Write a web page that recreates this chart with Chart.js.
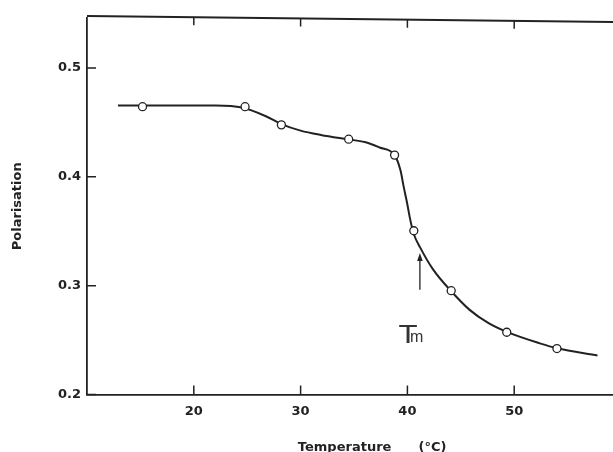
<!DOCTYPE html>
<html><head><meta charset="utf-8">
<script src="https://cdn.jsdelivr.net/npm/chart.js@4.4.0/dist/chart.umd.min.js"></script>
<style>html,body{margin:0;padding:0;background:#fff;}canvas{display:block;}</style>
</head><body>
<canvas id="c" width="613" height="452"></canvas>
<script>
// ---- data ----
const measuredTemps = [15.2, 24.8, 28.2, 34.5, 38.8, 40.6, 44.1, 49.3, 54.0];
const measuredPolarisation = [0.4645, 0.4645, 0.4478, 0.4346, 0.4200, 0.3505, 0.2954, 0.2572, 0.2422];
const curveTemps = [12.9, 15.2, 18.0, 22.0, 24.5, 26.8, 28.2, 30.0, 31.9, 34.4, 36.0, 37.4, 38.8, 39.35, 39.65, 39.97, 40.28, 40.58, 41.2, 42.4, 44.0, 45.8, 47.6, 49.3, 52.4, 54.0, 57.8];
const curvePolarisation = [0.4655, 0.4655, 0.4657, 0.4656, 0.4637, 0.4555, 0.4485, 0.4425, 0.4385, 0.4345, 0.4320, 0.4270, 0.4200, 0.4060, 0.3910, 0.3760, 0.3600, 0.3480, 0.3350, 0.3150, 0.2960, 0.2780, 0.2655, 0.2575, 0.2470, 0.2425, 0.2358];
const xTickValues = [20, 30, 40, 50];
const yTickValues = [0.2, 0.3, 0.4, 0.5];
const xTitle = 'Temperature      (°C)';
const yTitle = 'Polarisation';
const tmMain = 'T', tmSub = 'm';
const tmArrowTemp = 41.17, tmArrowFrom = 0.2962, tmArrowTo = 0.330;

const ink = '#222';
const measured = measuredTemps.map((t, i) => ({x: t, y: measuredPolarisation[i]}));
const curve = curveTemps.map((t, i) => ({x: t, y: curvePolarisation[i]}));

const decor = {
  id: 'decor',
  afterDraw(chart) {
    const {ctx, chartArea: a, scales: {x, y}} = chart;
    ctx.save();
    ctx.strokeStyle = ink;
    ctx.lineWidth = 1.8;
    const topAt = px => a.top - 2 + 6 * (px - a.left) / (a.right - a.left);
    ctx.beginPath();
    ctx.moveTo(a.left, topAt(a.left)); ctx.lineTo(a.right, topAt(a.right));
    ctx.stroke();
    ctx.lineWidth = 1.5;
    ctx.beginPath();
    x.ticks.forEach(t => {
      const px = x.getPixelForValue(t.value);
      ctx.moveTo(px, a.bottom); ctx.lineTo(px, a.bottom - 9);
      const ty = topAt(px);
      ctx.moveTo(px, ty); ctx.lineTo(px, ty + 8);
    });
    y.ticks.forEach(t => {
      const py = y.getPixelForValue(t.value);
      ctx.moveTo(a.left, py); ctx.lineTo(a.left + 9, py);
    });
    ctx.stroke();
    // x title
    ctx.fillStyle = ink;
    ctx.font = 'bold 13px "DejaVu Sans"';
    ctx.textAlign = 'center';
    ctx.textBaseline = 'alphabetic';
    ctx.fillText(xTitle, x.getPixelForValue(36.7), 451);
    // Tm arrow
    const ax = x.getPixelForValue(tmArrowTemp);
    const y0 = y.getPixelForValue(tmArrowFrom), y1 = y.getPixelForValue(tmArrowTo);
    ctx.lineWidth = 1.3;
    ctx.beginPath(); ctx.moveTo(ax, y0); ctx.lineTo(ax, y1 + 4); ctx.stroke();
    ctx.beginPath(); ctx.moveTo(ax, y1); ctx.lineTo(ax - 2.8, y1 + 8); ctx.lineTo(ax + 2.8, y1 + 8); ctx.closePath(); ctx.fill();
    // Tm label
    ctx.fillStyle = '#333';
    ctx.textAlign = 'left';
    const tx = x.getPixelForValue(39.16), tb = y.getPixelForValue(0.2473);
    ctx.save();
    ctx.translate(tx, tb); ctx.scale(1.25, 1);
    ctx.font = '25px "Liberation Sans"';
    ctx.fillText(tmMain, 0, 0);
    ctx.restore();
    ctx.font = '16px "Liberation Sans"';
    ctx.fillText(tmSub, tx + 11.5, tb - 1);
    ctx.restore();
  }
};

new Chart(document.getElementById('c'), {
  type: 'scatter',
  data: {
    datasets: [
      {label: 'measured', data: measured, pointRadius: 4, pointHoverRadius: 4,
       pointBackgroundColor: '#fff', pointBorderColor: ink, pointBorderWidth: 1.3, showLine: false},
      {label: 'fit', data: curve, showLine: true, pointRadius: 0, borderColor: ink, borderWidth: 2,
       cubicInterpolationMode: 'monotone', fill: false}
    ]
  },
  options: {
    responsive: false, animation: false, devicePixelRatio: 1,
    layout: {autoPadding: false, padding: {top: 18, right: 0, left: 0, bottom: 0}},
    plugins: {legend: {display: false}, tooltip: {enabled: false}},
    scales: {
      x: {
        type: 'linear', min: 10, max: 59.25,
        afterBuildTicks: s => { s.ticks = xTickValues.map(v => ({value: v})); },
        afterFit: s => { s.height = 57.5; },
        grid: {display: false, drawTicks: false},
        border: {display: true, color: ink, width: 1.8},
        ticks: {color: ink, padding: 9, font: {family: 'DejaVu Sans', size: 13, weight: 'bold'}, maxRotation: 0},
        title: {display: false}
      },
      y: {
        type: 'linear', min: 0.2, max: 0.546,
        afterBuildTicks: s => { s.ticks = yTickValues.map(v => ({value: v})); },
        afterFit: s => { s.width = 87; },
        grid: {display: false, drawTicks: false},
        border: {display: true, color: ink, width: 1.8},
        ticks: {color: ink, padding: 6, font: {family: 'DejaVu Sans', size: 13, weight: 'bold'},
                callback: v => v.toFixed(1)},
        title: {display: true, text: yTitle, color: ink, padding: {top: 10, bottom: 0},
                font: {family: 'DejaVu Sans', size: 13, weight: 'bold'}}
      }
    }
  },
  plugins: [decor]
});
</script>
</body></html>
